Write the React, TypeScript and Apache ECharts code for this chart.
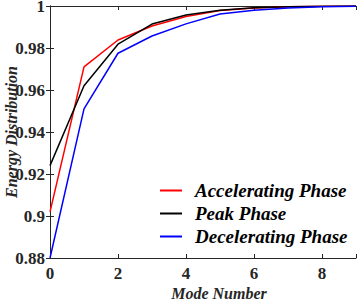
import React, { useEffect, useRef } from "react";
import * as echarts from "echarts";

const modes = [0, 1, 2, 3, 4, 5, 6, 7, 8, 9];
const accelerating = [0.902, 0.971, 0.9838, 0.9905, 0.995, 0.9978, 0.999, 0.9996, 0.9999, 1.0];
const peak = [0.924, 0.962, 0.9818, 0.9914, 0.9957, 0.998, 0.9992, 0.9997, 0.9999, 1.0];
const decelerating = [0.88, 0.951, 0.9775, 0.9857, 0.9915, 0.9962, 0.998, 0.999, 0.9996, 0.9999];
const seriesNames = ["Accelerating Phase", "Peak Phase", "Decelerating Phase"];
const seriesColors = ["#ff0000", "#000000", "#0000ff"];

const FONT = "Times New Roman, Liberation Serif, Times, serif";

export default function App() {
  const ref = useRef<HTMLDivElement>(null);
  useEffect(() => {
    const chart = echarts.init(ref.current!, null, { renderer: "svg" });
    const vals = [accelerating, peak, decelerating];
    const axisLine = { show: true, lineStyle: { color: "#262626", width: 1 } };
    const tick = { show: true, inside: true, length: 4, lineStyle: { color: "#262626" } };
    const labelStyle = { fontFamily: FONT, fontSize: 17, fontWeight: "bold", color: "#262626" };
    const nameStyle = { fontFamily: FONT, fontSize: 16, fontWeight: "bold", fontStyle: "italic", color: "#262626" };
    chart.setOption({
      animation: false,
      textStyle: { fontFamily: FONT, fontWeight: "bold" },
      grid: { left: 50, right: 1, top: 6, bottom: 42, outerBoundsMode: "none", containLabel: false },
      legend: {
        orient: "vertical",
        left: 155,
        top: 176,
        itemWidth: 22,
        itemHeight: 2,
        itemGap: 4,
        icon: "rect",
        textStyle: { fontFamily: FONT, fontSize: 19, fontWeight: "bold", fontStyle: "italic", color: "#000", padding: [0, 0, 0, 8] },
        data: seriesNames,
      },
      xAxis: [
        {
          type: "value",
          min: 0,
          max: 9,
          interval: 2,
          axisLine,
          axisTick: tick,
          splitLine: { show: false },
          axisLabel: {
            ...labelStyle,
            margin: 7,
            formatter: (v: number) => (v === 9 ? "" : String(v)),
          },
          name: "Mode Number",
          nameLocation: "middle",
          nameGap: 27,
          nameMoveOverlap: false,
          nameTextStyle: { ...nameStyle, padding: [0, 0, 0, 32] },
        },
        {
          type: "value",
          position: "top",
          min: 0,
          max: 9,
          interval: 2,
          axisLine,
          axisTick: tick,
          splitLine: { show: false },
          axisLabel: { show: false },
        },
      ],
      yAxis: [
        {
          type: "value",
          min: 0.88,
          max: 1,
          interval: 0.02,
          axisLine,
          axisTick: tick,
          splitLine: { show: false },
          axisLabel: {
            ...labelStyle,
            lineHeight: 12,
            margin: 5,
            formatter: (v: number) => String(parseFloat(v.toFixed(2))),
          },
          name: "Energy Distribution",
          nameLocation: "middle",
          nameGap: 31,
          nameRotate: 90,
          nameMoveOverlap: false,
          nameTextStyle: nameStyle,
        },
        {
          type: "value",
          position: "right",
          min: 0.88,
          max: 1,
          interval: 0.02,
          axisLine,
          axisTick: tick,
          splitLine: { show: false },
          axisLabel: { show: false },
        },
      ],
      series: seriesNames.map((name, i) => ({
        name,
        type: "line",
        symbol: "none",
        data: modes.map((m, j) => [m, vals[i][j]]),
        lineStyle: { color: seriesColors[i], width: 1.5 },
        itemStyle: { color: seriesColors[i] },
        clip: true,
      })),
    });
    return () => chart.dispose();
  }, []);
  return <div ref={ref} style={{ width: 357, height: 300, position: "absolute", left: 0, top: 0, background: "#fff" }} />;
}
